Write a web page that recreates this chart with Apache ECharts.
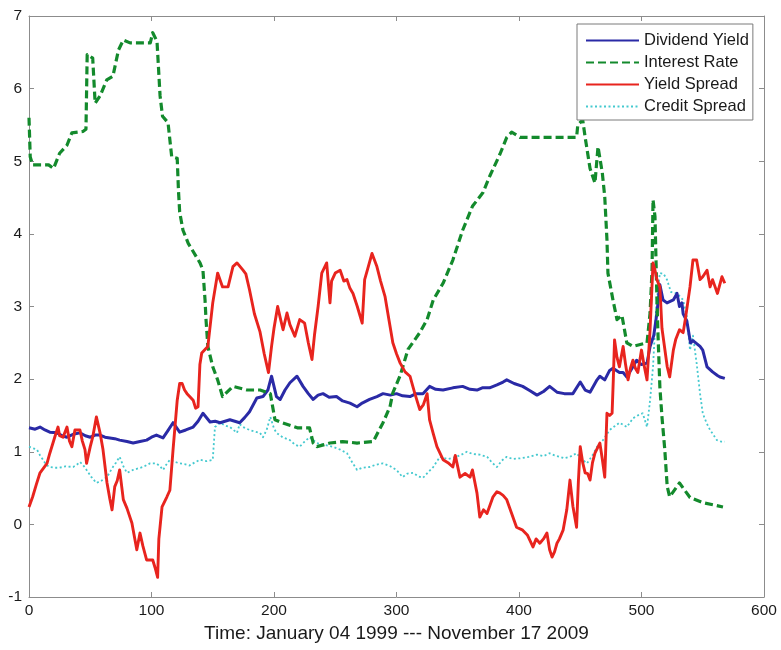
<!DOCTYPE html>
<html>
<head>
<meta charset="utf-8">
<script src="https://cdn.jsdelivr.net/npm/echarts@6/dist/echarts.min.js"></script>
<style>
html,body{margin:0;padding:0;background:#fff;}
#chart{width:781px;height:650px;}
</style>
</head>
<body>
<div id="chart"></div>
<script>
// ---- data (x = observation index, y = value in %) ----
const seriesNames = ["Dividend Yield", "Interest Rate", "Yield Spread", "Credit Spread"];
const xTicks = [0, 100, 200, 300, 400, 500, 600];
const yTicks = [-1, 0, 1, 2, 3, 4, 5, 6, 7];
const xTitle = "Time: January 04 1999 --- November 17 2009";

const dividendYield = [[0,1.33],[5,1.31],[9,1.34],[13,1.3],[17,1.27],[23,1.26],[27,1.22],[31,1.2],[36,1.24],[41.6,1.26],[46,1.22],[50,1.2],[54,1.23],[58,1.23],[62,1.2],[66,1.19],[70,1.18],[74,1.16],[80,1.14],[85,1.12],[90.6,1.14],[96,1.16],[100,1.2],[104,1.23],[109.4,1.19],[113,1.28],[117.6,1.4],[123,1.27],[128,1.3],[134,1.34],[138,1.42],[142,1.53],[147.8,1.41],[152,1.42],[156,1.4],[164,1.44],[172,1.4],[176,1.47],[180,1.55],[186,1.74],[191,1.76],[195,1.85],[198,2.04],[202,1.76],[205,1.72],[209,1.85],[213,1.95],[218.8,2.04],[223.7,1.9],[228,1.8],[232,1.72],[236,1.78],[240,1.8],[245,1.75],[251,1.76],[256,1.7],[262,1.67],[267.8,1.62],[272,1.67],[278,1.72],[284,1.76],[289,1.8],[295,1.78],[300,1.8],[305,1.77],[311,1.76],[316,1.8],[321.6,1.8],[327,1.9],[332,1.86],[338,1.85],[346,1.88],[354,1.9],[360,1.86],[365.7,1.85],[370,1.88],[376,1.88],[382,1.92],[387,1.96],[390,1.99],[396,1.94],[403,1.9],[409,1.84],[414.7,1.78],[420,1.83],[425,1.9],[431,1.82],[437,1.8],[444,1.8],[450,1.96],[454,1.85],[458,1.82],[463.7,1.99],[466,2.04],[470,1.99],[474,2.12],[476.7,2.15],[482,2.09],[485,2.09],[488,2.03],[493,2.17],[496,2.26],[500,2.2],[504.5,2.22],[507,2.45],[510,2.6],[512.6,2.91],[515,3.3],[517.6,3.09],[520.8,3.05],[526,3.09],[529,3.18],[531,3.0],[533,3.05],[534,2.9],[537,2.8],[540,2.5],[542,2.53],[547.8,2.45],[550,2.4],[553.5,2.17],[558,2.1],[562,2.05],[564,2.03],[568,2.01]];

const interestRate = [[0,5.6],[1,5.06],[3,4.95],[10,4.95],[16,4.95],[20,4.9],[25,5.11],[31,5.22],[35,5.39],[44,5.41],[46.5,5.44],[47.5,6.47],[52,6.42],[54,5.8],[58,5.9],[63.5,6.12],[68.5,6.17],[73,6.53],[77,6.67],[82.5,6.63],[99,6.63],[101,6.77],[104.5,6.65],[107,5.9],[109,5.62],[113.5,5.53],[116.5,5.06],[121,5.04],[122,4.6],[123,4.3],[125.7,4.05],[130,3.87],[139.6,3.6],[142,3.5],[143.7,3.09],[144.5,2.82],[146,2.45],[150,2.17],[154,1.99],[158,1.76],[166.5,1.9],[178,1.85],[188.6,1.85],[197,1.8],[200.8,1.44],[205,1.41],[219,1.33],[229,1.33],[232,1.12],[235,1.07],[245.7,1.12],[256,1.14],[267.8,1.12],[281,1.14],[289,1.4],[294.7,1.62],[297,1.81],[303,2.05],[309.4,2.41],[319,2.64],[325,2.82],[330,3.09],[338,3.32],[346,3.64],[354,4.05],[362,4.38],[370.6,4.57],[376,4.79],[384.5,5.1],[390,5.33],[394,5.4],[400.8,5.33],[447,5.33],[448,5.5],[452,5.57],[454,5.33],[458,4.9],[462,4.7],[464.5,5.2],[468,4.84],[470,4.51],[471.8,3.92],[472.6,3.46],[476.7,3.09],[480,2.82],[484,2.88],[488,2.5],[493,2.45],[504.5,2.5],[507,2.91],[508.6,3.5],[509.4,4.47],[511,4.24],[512.6,3.09],[513.5,2.6],[515,1.89],[516.7,1.48],[519,1.03],[521,0.52],[523,0.38],[531,0.57],[539.6,0.37],[550,0.3],[566.5,0.24]];

const yieldSpread = [[0,0.24],[3,0.38],[6,0.55],[9,0.71],[14.7,0.84],[17,0.98],[21,1.2],[23.7,1.34],[25,1.22],[27.8,1.2],[31,1.34],[33,1.15],[35,1.07],[37.5,1.3],[41.6,1.3],[43.5,1.15],[45.7,1.03],[47,0.84],[50,1.07],[52,1.2],[55,1.48],[58,1.26],[60.4,1.03],[63.7,0.57],[66,0.35],[67.8,0.2],[70,0.52],[72,0.6],[74,0.75],[77,0.34],[80,0.22],[84,0.02],[88,-0.35],[90.6,-0.12],[93,-0.3],[96,-0.49],[101,-0.49],[103,-0.6],[105,-0.73],[106,-0.2],[108.6,0.24],[112.6,0.38],[115,0.47],[117.6,1.03],[121,1.71],[123,1.94],[125,1.94],[127,1.85],[129,1.8],[134,1.71],[136,1.6],[138,1.62],[139.5,2.2],[141,2.36],[146,2.45],[150,3.05],[154,3.46],[158,3.27],[162.5,3.27],[166.5,3.55],[169.8,3.6],[174.7,3.5],[177,3.45],[180,3.23],[184,2.9],[188.6,2.65],[192,2.35],[195.5,2.09],[198,2.45],[200,2.7],[203,3.0],[205,2.85],[207.4,2.68],[210.6,2.91],[213,2.75],[217,2.59],[221,2.82],[225,2.77],[228,2.5],[231,2.27],[233,2.6],[236,3.0],[239,3.46],[243,3.6],[245.7,3.05],[247,3.35],[250,3.46],[254,3.5],[257,3.35],[259.6,3.37],[262,3.25],[264.5,3.18],[268,3.0],[272,2.77],[274,3.37],[277,3.55],[280,3.73],[284,3.55],[287,3.35],[290.6,3.14],[294,2.8],[297,2.5],[300,2.35],[303,2.22],[307,2.1],[311,2.04],[315,1.8],[319,1.58],[322,1.65],[325,1.8],[327,1.44],[330,1.25],[333,1.07],[338,0.89],[342,0.85],[346,0.79],[348,0.95],[351.8,0.65],[356,0.7],[360,0.65],[362,0.75],[365.7,0.43],[368,0.1],[371,0.2],[373.9,0.15],[378.8,0.38],[382,0.45],[384.5,0.43],[387,0.4],[390,0.34],[394,0.15],[398,-0.04],[403,-0.08],[407,-0.15],[411.4,-0.31],[414,-0.2],[417,-0.26],[420,-0.2],[422.8,-0.12],[425,-0.35],[427,-0.45],[429,-0.38],[431,-0.26],[433,-0.2],[436,-0.08],[439,0.2],[441.6,0.61],[444,0.25],[447,-0.04],[448.5,0.6],[450,1.07],[452,0.85],[454,0.71],[456,0.7],[458,0.61],[460,0.85],[462,0.98],[464,1.05],[466,1.12],[468,0.9],[470,0.65],[471.8,1.53],[474,1.5],[476,1.53],[477,2.0],[478,2.54],[480,2.3],[482,2.17],[485,2.45],[487,2.2],[489,1.99],[491,2.15],[493,2.26],[495,2.15],[497,2.09],[500,2.4],[502,2.2],[504.5,1.99],[506,2.4],[507,2.68],[509.4,3.6],[511,3.5],[512.6,3.37],[515,3.27],[516.7,2.7],[518,2.7],[521,2.17],[523,2.03],[526,2.4],[528,2.55],[531,2.68],[534,2.64],[536,2.85],[539.6,3.27],[542,3.64],[545,3.64],[547.8,3.37],[550,3.41],[553.5,3.5],[556,3.27],[558,3.37],[562,3.18],[565.7,3.41],[568,3.32]];

const creditSpread = [[0,1.07],[3,1.05],[6.5,1.03],[9,0.95],[11.4,0.89],[14,0.82],[17,0.79],[21,0.78],[25,0.78],[30,0.8],[36,0.79],[39,0.82],[41.6,0.86],[44,0.82],[47,0.75],[51,0.65],[55,0.57],[59,0.6],[63.7,0.65],[66,0.72],[68.5,0.79],[71,0.85],[74,0.93],[77,0.8],[80,0.71],[85,0.75],[89,0.77],[93,0.79],[98.8,0.84],[104,0.84],[107,0.8],[109.4,0.75],[112,0.82],[115,0.89],[119,0.86],[123,0.84],[127,0.83],[131,0.81],[135,0.85],[139.6,0.89],[145,0.87],[150,0.89],[151.8,1.34],[156,1.4],[160,1.36],[164,1.34],[167,1.3],[169.8,1.26],[172,1.38],[174.7,1.34],[180,1.3],[184,1.28],[188.6,1.26],[191,1.2],[194,1.3],[197,1.48],[200,1.32],[202,1.26],[207,1.2],[213,1.16],[217,1.1],[221,1.07],[225,1.14],[229,1.2],[235,1.12],[240,1.1],[248,1.07],[254,1.03],[259.6,0.98],[264,0.85],[267.8,0.75],[272,0.78],[278,0.79],[283,0.82],[289,0.84],[295,0.8],[300,0.75],[305,0.65],[309,0.7],[313.5,0.71],[318,0.66],[321.6,0.64],[326,0.72],[330,0.79],[335.5,0.93],[342,0.9],[349,0.93],[353,0.96],[357.5,1.0],[362,0.97],[368,0.96],[374,0.93],[378,0.85],[382,0.79],[386,0.88],[390,0.93],[395,0.9],[401,0.91],[408,0.93],[414.7,0.96],[420,0.94],[425,0.98],[429,0.95],[433.5,0.93],[437,0.91],[441.6,0.93],[447,0.98],[451,0.9],[455.5,0.84],[460,0.95],[463.7,1.07],[468.6,1.16],[474,1.3],[478,1.35],[482,1.4],[488,1.34],[493,1.46],[497,1.5],[501,1.53],[504.5,1.34],[507,1.71],[509.4,2.17],[512,3.0],[515,3.46],[518,3.45],[520.8,3.37],[524,3.2],[529,3.18],[534,3.09],[537,2.86],[539.6,2.4],[542,2.6],[545,2.22],[547.8,1.8],[550,1.53],[553,1.4],[556,1.3],[561.6,1.16],[565,1.14],[568,1.14]];

// ---- chart ----
const FONT = "Liberation Sans, Arial, Helvetica, sans-serif";
const AXIS_COLOR = "#8c8c8c";
const chart = echarts.init(document.getElementById("chart"), null, {renderer: "canvas"});

function xAxisDef(pos, showLabels) {
  return {
    type: "value", position: pos, min: xTicks[0], max: xTicks[xTicks.length - 1],
    interval: xTicks[1] - xTicks[0],
    axisLine: {show: true, onZero: false, lineStyle: {color: AXIS_COLOR, width: 1}},
    axisTick: {show: true, inside: true, length: 5, lineStyle: {color: AXIS_COLOR}},
    axisLabel: {show: showLabels, color: "#1a1a1a", fontFamily: FONT, fontSize: 15.5, margin: 6},
    splitLine: {show: false},
    name: showLabels ? xTitle : "",
    nameLocation: "middle", nameGap: 26,
    nameTextStyle: {color: "#1a1a1a", fontFamily: FONT, fontSize: 19}
  };
}
function yAxisDef(pos, showLabels) {
  return {
    type: "value", position: pos, min: yTicks[0], max: yTicks[yTicks.length - 1],
    interval: yTicks[1] - yTicks[0],
    axisLine: {show: true, onZero: false, lineStyle: {color: AXIS_COLOR, width: 1}},
    axisTick: {show: true, inside: true, length: 5, lineStyle: {color: AXIS_COLOR}},
    axisLabel: {show: showLabels, color: "#1a1a1a", fontFamily: FONT, fontSize: 15.5, margin: 7},
    splitLine: {show: false}
  };
}

const styles = [
  {color: "#2a2aa6", width: 3, type: "solid"},
  {color: "#138a2c", width: 3.2, type: [8, 4]},
  {color: "#e8241e", width: 2.9, type: "solid"},
  {color: "#45c9cf", width: 1.8, type: [2, 2.5]}
];
const datas = [dividendYield, interestRate, yieldSpread, creditSpread];

chart.setOption({
  animation: false,
  backgroundColor: "#ffffff",
  grid: {left: 29, right: 17, top: 16, bottom: 53, containLabel: false},
  xAxis: [xAxisDef("bottom", true), xAxisDef("top", false)],
  yAxis: [yAxisDef("left", true), yAxisDef("right", false)],
  legend: {
    orient: "vertical", left: 577, top: 24,
    data: seriesNames,
    backgroundColor: "#ffffff", borderColor: "#7a7a7a", borderWidth: 1,
    padding: [8, 4, 5, 8],
    itemWidth: 53, itemHeight: 16, itemGap: 5, itemTextGap: 5,
    itemStyle: {opacity: 0},
    textStyle: {color: "#1a1a1a", fontFamily: FONT, fontSize: 16.5, lineHeight: 16},
    selectedMode: false
  },
  series: seriesNames.map((n, i) => ({
    name: n, type: "line", xAxisIndex: 0, yAxisIndex: 0,
    data: datas[i], symbol: "none", showSymbol: false, smooth: false,
    z: i === 3 ? 1 : 2 + i,
    color: styles[i].color,
    lineStyle: {color: styles[i].color, width: styles[i].width, type: styles[i].type, join: "round"},
    emphasis: {disabled: true}
  }))
});
</script>
</body>
</html>
